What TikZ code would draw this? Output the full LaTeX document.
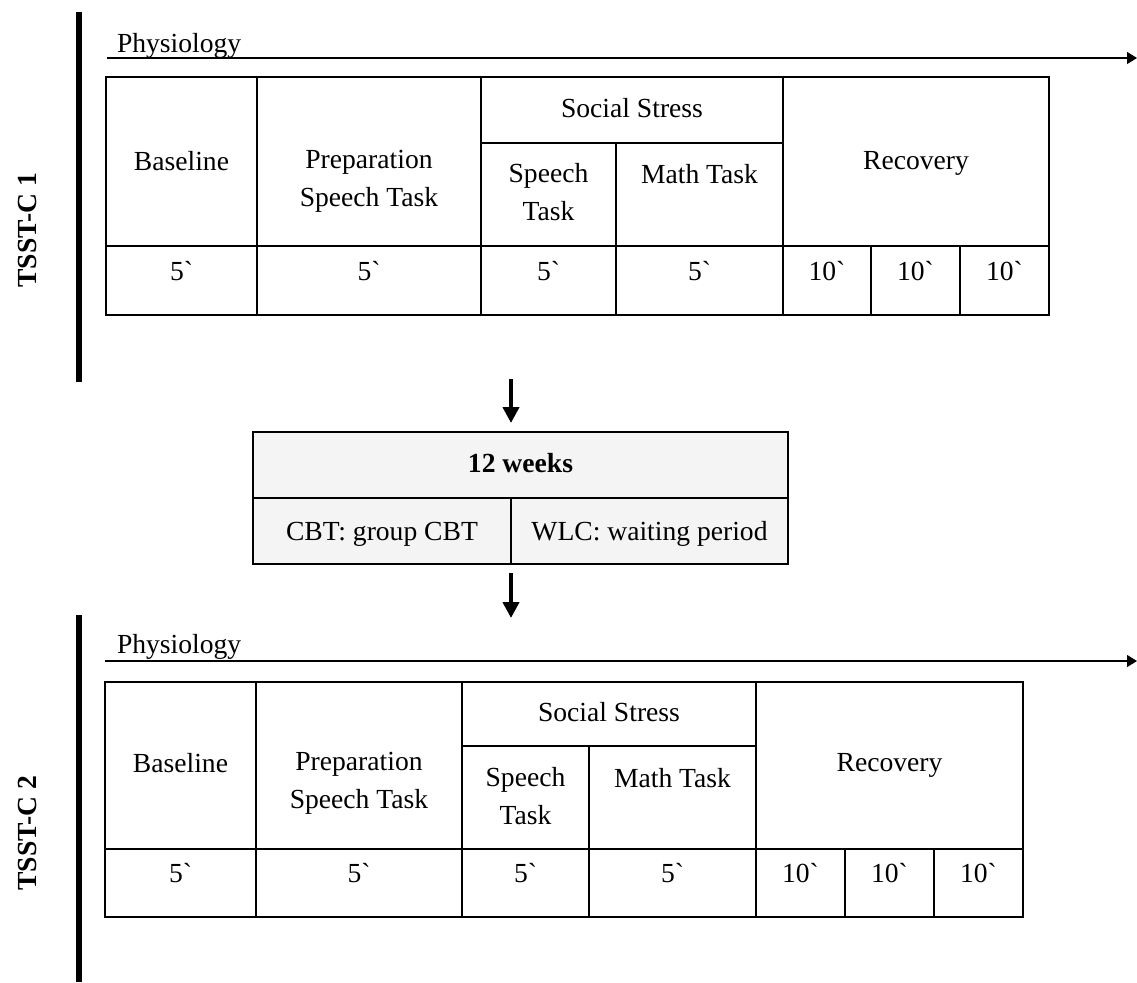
\documentclass[tikz,border=0pt]{standalone}
\usepackage{fontspec}
\setmainfont{Liberation Serif}[Ligatures=TeXOff]
\usetikzlibrary{arrows.meta}
\definecolor{midgray}{RGB}{243,244,243}
\begin{document}
\begin{tikzpicture}[x=0.5pt,y=-0.5pt,
  every node/.style={inner sep=0pt, outer sep=0pt, font=\fontsize{13.8}{19}\selectfont},
  txt/.style={anchor=base},
  mtxt/.style={anchor=center, align=center},
  boldtxt/.style={font=\fontsize{13.8}{19}\selectfont\bfseries},
  cellbox/.style={draw=black, line width=1pt},
  midbox/.style={draw=black, line width=1pt, fill=midgray},
  sidebar/.style={line width=3pt},
  timeline/.style={line width=0.6pt, -{Triangle[length=5pt,width=6pt]}},
  downarrow/.style={line width=2pt, -{Triangle[length=8pt,width=8pt]}}]
\useasboundingbox (0,0) rectangle (1137,982);

% ---------------- TSST-C 1 ----------------
\draw[sidebar] (79,12) -- (79,382);
\node[boldtxt, rotate=90] (lab1) at (27,230) {TSST-C 1};
\node[anchor=base west] (phys1) at (117,52) {Physiology};
\coordinate (tl1s) at (107,58);
\coordinate (tl1e) at (1137,58);
\draw[timeline] (tl1s) -- (tl1e);

\draw[cellbox] (106,77) rectangle (257,246);
\draw[cellbox] (257,77) rectangle (481,246);
\draw[cellbox] (481,77) rectangle (783,143);
\draw[cellbox] (481,143) rectangle (616,246);
\draw[cellbox] (616,143) rectangle (783,246);
\draw[cellbox] (783,77) rectangle (1049,246);
\draw[cellbox] (106,246) rectangle (257,315);
\draw[cellbox] (257,246) rectangle (481,315);
\draw[cellbox] (481,246) rectangle (616,315);
\draw[cellbox] (616,246) rectangle (783,315);
\draw[cellbox] (783,246) rectangle (871,315);
\draw[cellbox] (871,246) rectangle (960,315);
\draw[cellbox] (960,246) rectangle (1049,315);

\node[txt] (a-base) at (181.5,170) {Baseline};
\node[mtxt] (a-prep) at (369,181) {Preparation\\Speech Task};
\node[txt] (a-soc) at (632,117) {Social Stress};
\node[mtxt] (a-speech) at (548.5,192) {Speech\\Task};
\node[txt] (a-math) at (699.5,183) {Math Task};
\node[txt] (a-rec) at (916,169) {Recovery};
\node[txt] (a-t1) at (181.5,280) {5`};
\node[txt] (a-t2) at (369,280) {5`};
\node[txt] (a-t3) at (548.5,280) {5`};
\node[txt] (a-t4) at (699.5,280) {5`};
\node[txt] (a-t5) at (827,280) {10`};
\node[txt] (a-t6) at (915.5,280) {10`};
\node[txt] (a-t7) at (1004.5,280) {10`};

% ---------------- middle box ----------------
\draw[midbox] (253,432) rectangle (788,498);
\draw[midbox] (253,498) rectangle (511,564);
\draw[midbox] (511,498) rectangle (788,564);
\node[txt, boldtxt] (weeks) at (520.5,472) {12 weeks};
\node[txt] (cbt) at (382,540) {CBT: group CBT};
\node[txt] (wlc) at (649.5,540) {WLC: waiting period};

\coordinate (d1s) at (511,379);
\coordinate (d1e) at (511,423);
\coordinate (d2s) at (511,573);
\coordinate (d2e) at (511,618);
\draw[downarrow] (d1s) -- (d1e);
\draw[downarrow] (d2s) -- (d2e);

% ---------------- TSST-C 2 ----------------
\draw[sidebar] (79,615) -- (79,982);
\node[boldtxt, rotate=90] (lab2) at (27,833) {TSST-C 2};
\node[anchor=base west] (phys2) at (117,653) {Physiology};
\coordinate (tl2s) at (105,661);
\coordinate (tl2e) at (1137,661);
\draw[timeline] (tl2s) -- (tl2e);

\draw[cellbox] (105,682) rectangle (256,849);
\draw[cellbox] (256,682) rectangle (462,849);
\draw[cellbox] (462,682) rectangle (756,746);
\draw[cellbox] (462,746) rectangle (589,849);
\draw[cellbox] (589,746) rectangle (756,849);
\draw[cellbox] (756,682) rectangle (1023,849);
\draw[cellbox] (105,849) rectangle (256,917);
\draw[cellbox] (256,849) rectangle (462,917);
\draw[cellbox] (462,849) rectangle (589,917);
\draw[cellbox] (589,849) rectangle (756,917);
\draw[cellbox] (756,849) rectangle (845,917);
\draw[cellbox] (845,849) rectangle (934,917);
\draw[cellbox] (934,849) rectangle (1023,917);

\node[txt] (b-base) at (180.5,772) {Baseline};
\node[mtxt] (b-prep) at (359,783.6) {Preparation\\Speech Task};
\node[txt] (b-soc) at (609,721) {Social Stress};
\node[mtxt] (b-speech) at (525.5,795.6) {Speech\\Task};
\node[txt] (b-math) at (672.5,787) {Math Task};
\node[txt] (b-rec) at (889.5,771) {Recovery};
\node[txt] (b-t1) at (180.5,882) {5`};
\node[txt] (b-t2) at (359,882) {5`};
\node[txt] (b-t3) at (525.5,882) {5`};
\node[txt] (b-t4) at (672.5,882) {5`};
\node[txt] (b-t5) at (800.5,882) {10`};
\node[txt] (b-t6) at (889.5,882) {10`};
\node[txt] (b-t7) at (978.5,882) {10`};
\end{tikzpicture}
\end{document}
